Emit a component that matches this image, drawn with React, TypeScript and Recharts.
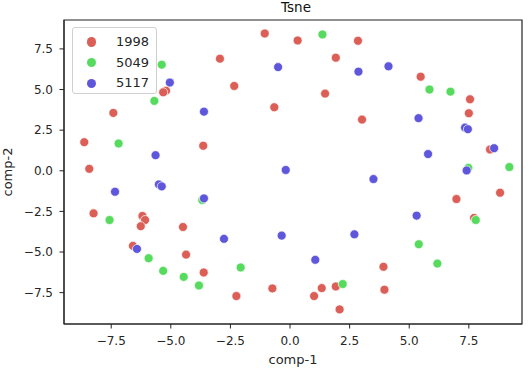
import {
  ScatterChart,
  Scatter,
  XAxis,
  YAxis,
  Legend,
  Label,
  ReferenceArea,
} from "recharts";

const SERIES = ["1998", "5049", "5117"];
const COLORS = ["#db5f57", "#57db5f", "#5f57db"];

const X_TICKS = [-7.5, -5.0, -2.5, 0.0, 2.5, 5.0, 7.5];
const Y_TICKS = [-7.5, -5.0, -2.5, 0.0, 2.5, 5.0, 7.5];
const X_DOMAIN = [-9.48, 9.73];
const Y_DOMAIN = [-9.43, 9.28];

const x1998 = [
  -1.06, 0.32, -2.94, 2.85, 1.92, -2.34, -5.2, -5.32, -0.66, -7.41, -8.63,
  -3.64, -8.42, 1.47, 5.48, 7.55, 7.5, 3.02, 8.39, -8.24, -6.19, -6.08, -6.26,
  -4.49, -6.59, -4.36, -3.62, -2.25, -0.74, 8.81, 6.98, 7.72, 3.92, 1.33, 1.92,
  1.01, 3.96, 2.08,
];
const y1998 = [
  8.45, 8.02, 6.9, 8.0, 6.96, 5.22, 4.93, 4.83, 3.91, 3.56, 1.76, 1.54, 0.12,
  4.75, 5.79, 4.4, 3.54, 3.15, 1.31, -2.62, -2.78, -3.03, -3.41, -3.46, -4.62,
  -5.16, -6.26, -7.71, -7.24, -1.35, -1.74, -2.9, -5.91, -7.22, -7.12, -7.71,
  -7.32, -8.53,
];

const x5049 = [
  1.36, -5.38, -5.69, 5.85, 6.73, -7.19, 9.2, 7.48, -3.68, -7.57, 7.79, -5.93,
  -5.32, -4.46, -2.07, -3.82, 5.4, 6.18, 2.21,
];
const y5049 = [
  8.39, 6.53, 4.3, 5.0, 4.87, 1.68, 0.23, 0.18, -1.8, -3.03, -3.03, -5.38,
  -6.16, -6.53, -5.95, -7.06, -4.52, -5.71, -6.97,
];

const x5117 = [
  -0.5, 2.87, 4.13, -5.04, -3.61, 5.39, 7.34, 7.46, 8.56, 5.79, -5.64, -0.18,
  7.41, -7.34, -5.5, -5.38, -3.61, 3.5, -2.77, -0.35, -6.42, 5.31, 2.7, 1.06,
];
const y5117 = [
  6.38, 6.1, 6.43, 5.43, 3.64, 3.24, 2.66, 2.56, 1.39, 1.03, 0.96, 0.05, 0.02,
  -1.29, -0.84, -0.96, -1.7, -0.51, -4.19, -3.99, -4.81, -2.76, -3.91, -5.48,
];

const toPoints = (xs: number[], ys: number[]) =>
  xs.map((x, i) => ({ x, y: ys[i] }));

const seriesData = [
  toPoints(x1998, y1998),
  toPoints(x5049, y5049),
  toPoints(x5117, y5117),
];

const FONT = "'DejaVu Sans', sans-serif";
const fmt = (v: number) => v.toFixed(1).replace("-", "\u2212");

const dot = (color: string) => (props: any) =>
  (
    <circle
      cx={props.cx}
      cy={props.cy}
      r={4.5}
      fill={color}
      stroke="#fff"
      strokeWidth={0.7}
    />
  );

export default function App() {
  return (
    <div
      style={{
        position: "absolute",
        left: 0,
        top: 0,
        width: 532,
        height: 368,
        background: "#fff",
        fontFamily: FONT,
      }}
    >
      <div
        style={{
          position: "absolute",
          left: 196,
          width: 200,
          top: -1,
          textAlign: "center",
          fontSize: 13.5,
          color: "#111",
          lineHeight: "16px",
        }}
      >
        Tsne
      </div>
      <ScatterChart
        width={532}
        height={368}
        margin={{ top: 20, right: 10, bottom: 0, left: 0 }}
      >
        <XAxis
          type="number"
          dataKey="x"
          domain={X_DOMAIN}
          allowDataOverflow
          ticks={X_TICKS}
          tickFormatter={fmt}
          height={44}
          tickSize={4.5}
          tickMargin={8}
          stroke="#222"
          tick={{ fill: "#262626", fontSize: 12, fontFamily: FONT }}
        >
          <Label
            value="comp-1"
            position="insideBottom"
            offset={4}
            style={{ fill: "#262626", fontSize: 13, fontFamily: FONT }}
          />
        </XAxis>
        <YAxis
          type="number"
          dataKey="y"
          domain={Y_DOMAIN}
          allowDataOverflow
          ticks={Y_TICKS}
          tickFormatter={fmt}
          width={64}
          tickSize={4.5}
          tickMargin={6.5}
          stroke="#222"
          tick={{ fill: "#262626", fontSize: 12, fontFamily: FONT }}
        >
          <Label
            value="comp-2"
            angle={-90}
            position="insideLeft"
            offset={7}
            style={{
              fill: "#262626",
              fontSize: 13,
              fontFamily: FONT,
              textAnchor: "middle",
            }}
          />
        </YAxis>
        <ReferenceArea
          x1={X_DOMAIN[0]}
          x2={X_DOMAIN[1]}
          y1={Y_DOMAIN[0]}
          y2={Y_DOMAIN[1]}
          fill="none"
          fillOpacity={0}
          stroke="#222"
          strokeWidth={1.2}
          ifOverflow="visible"
        />
        {SERIES.map((name, i) => (
          <Scatter
            key={name}
            name={name}
            data={seriesData[i]}
            fill={COLORS[i]}
            shape={dot(COLORS[i])}
            isAnimationActive={false}
          />
        ))}
        <Legend
          layout="vertical"
          align="center"
          verticalAlign="middle"
          wrapperStyle={{ left: 72, top: 27, width: 85, height: 67 }}
          content={({ payload }) => (
            <div
              style={{
                position: "relative",
                width: 85,
                height: 67,
                boxSizing: "border-box",
                border: "1px solid #d0d0d0",
                borderRadius: 3,
                background: "rgba(255,255,255,0.8)",
                fontFamily: FONT,
              }}
            >
              {payload &&
                payload.map((entry: any, index: number) => (
                  <div
                    key={`item-${index}`}
                    style={{
                      position: "absolute",
                      left: 0,
                      top: 4 + index * 20.7,
                      height: 20,
                      display: "flex",
                      alignItems: "center",
                    }}
                  >
                    <span
                      style={{
                        position: "absolute",
                        left: 14,
                        width: 9.2,
                        height: 9.2,
                        borderRadius: "50%",
                        backgroundColor: COLORS[index],
                      }}
                    />
                    <span
                      style={{
                        position: "absolute",
                        left: 43,
                        fontSize: 13,
                        color: "#262626",
                        whiteSpace: "nowrap",
                        lineHeight: "20px",
                      }}
                    >
                      {entry.value}
                    </span>
                  </div>
                ))}
            </div>
          )}
        />
      </ScatterChart>
    </div>
  );
}
